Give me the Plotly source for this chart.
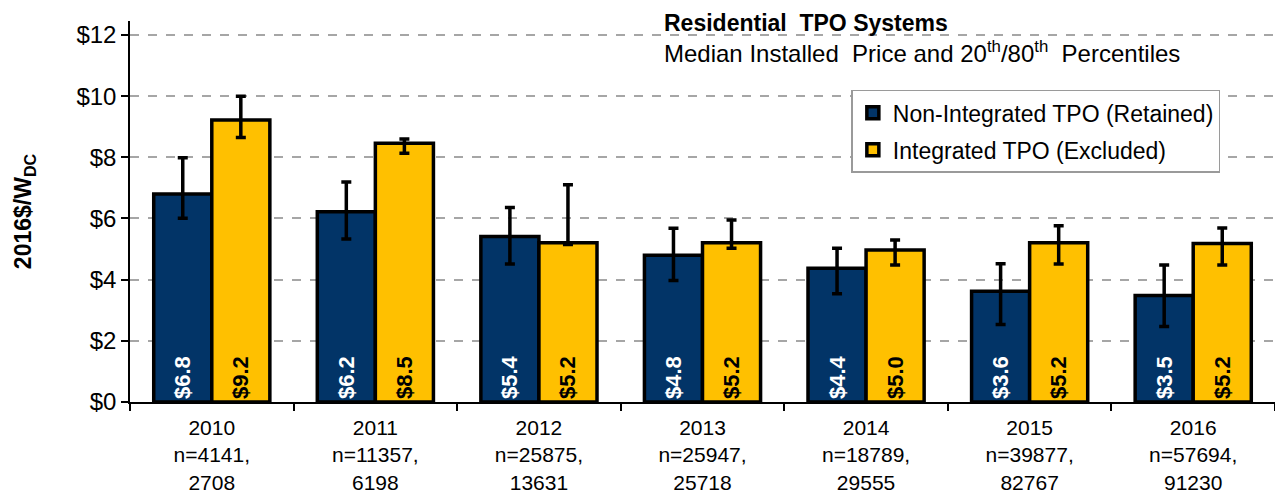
import plotly.graph_objects as go

years = ["2010", "2011", "2012", "2013", "2014", "2015", "2016"]
n_nonint = ["4141", "11357", "25875", "25947", "18789", "39877", "57694"]
n_int = ["2708", "6198", "13631", "25718", "29555", "82767", "91230"]

nonint_median = [6.80, 6.22, 5.41, 4.80, 4.37, 3.62, 3.48]
nonint_p20 = [6.01, 5.33, 4.51, 3.97, 3.54, 2.53, 2.47]
nonint_p80 = [7.99, 7.19, 6.36, 5.68, 5.03, 4.52, 4.48]

int_median = [9.22, 8.46, 5.21, 5.21, 4.97, 5.21, 5.18]
int_p20 = [8.65, 8.13, 5.15, 5.03, 4.48, 4.51, 4.48]
int_p80 = [10.00, 8.60, 7.10, 5.95, 5.30, 5.76, 5.69]

cats = [f"{y}<br>n={a},<br>{b}" for y, a, b in zip(years, n_nonint, n_int)]

NAVY = "#023467"
GOLD = "#FFC000"
FONT = "Arial, Liberation Sans, sans-serif"

fig = go.Figure()

def add(name, med, p20, p80, color, tcolor, grp):
    fig.add_trace(go.Bar(
        name=name, x=cats, y=med, legendgroup=grp,
        marker=dict(color=color, line=dict(color="black", width=3.5)),
        error_y=dict(type="data", symmetric=False,
                     array=[h - m for h, m in zip(p80, med)],
                     arrayminus=[m - l for l, m in zip(p20, med)],
                     color="black", thickness=3.5, width=5),
        texttemplate="$%{y:.1f}", textposition="inside",
        insidetextanchor="start", textangle=-90,
        textfont=dict(family=FONT, size=22, color=tcolor, weight="bold"),
        hoverinfo="skip",
    ))

add("Non-Integrated TPO (Retained)", nonint_median, nonint_p20, nonint_p80, NAVY, "white", "a")
add("Integrated TPO (Excluded)", int_median, int_p20, int_p80, GOLD, "black", "b")

PL, PT, PB = 130, 21, 402.5
PH = PB - PT

fig.update_layout(
    width=1275, height=500,
    margin=dict(l=PL, r=0, t=PT, b=500 - PB),
    plot_bgcolor="white", paper_bgcolor="white",
    barmode="group", bargap=0.29, bargroupgap=0,
    font=dict(family=FONT, color="black"),
    showlegend=True,
    legend=dict(x=0.630, y=(PB - 90) / PH, xanchor="left", yanchor="top",
                bgcolor="white", bordercolor="#9a9a9a", borderwidth=1.5,
                font=dict(size=23, family=FONT), traceorder="grouped",
                tracegroupgap=4, itemclick=False),
    xaxis=dict(showline=True, linecolor="black", linewidth=1.5,
               ticks="outside", tickson="boundaries", ticklen=7,
               tickcolor="black", tickwidth=1.5, ticklabelstandoff=6,
               tickfont=dict(size=21, family=FONT), showgrid=False,
               range=[-0.5, 6.5]),
    yaxis=dict(range=[0, 12 * PH / (PB - 35)], tickvals=[0, 2, 4, 6, 8, 10, 12],
               ticktext=["$0", "$2", "$4", "$6", "$8", "$10", "$12"],
               showline=True, linecolor="black", linewidth=1.5,
               ticks="outside", ticklen=7, tickcolor="black", tickwidth=1.5,
               tickfont=dict(size=24, family=FONT),
               showgrid=True, gridcolor="#a6a6a6", gridwidth=1.5, griddash="dash",
               zeroline=False,
               title=dict(text="<b>2016$/W<sub>DC</sub></b>",
                          font=dict(size=23, family=FONT), standoff=38)),
    annotations=[
        dict(text="<b>Residential  TPO Systems</b>", xref="paper", yref="paper",
             x=(662 - PL) / (1275 - PL), y=(PB - 23) / PH, xanchor="left", yanchor="middle",
             showarrow=False, font=dict(size=23, family=FONT)),
        dict(text="Median Installed  Price and 20<sup>th</sup>/80<sup>th</sup>  Percentiles",
             xref="paper", yref="paper",
             x=(662 - PL) / (1275 - PL), y=(PB - 52) / PH, xanchor="left", yanchor="middle",
             showarrow=False, font=dict(size=24, family=FONT)),
    ],
)

fig.write_html("out.html", config={"displayModeBar": False},
               post_script="document.body.style.margin='0px';")
